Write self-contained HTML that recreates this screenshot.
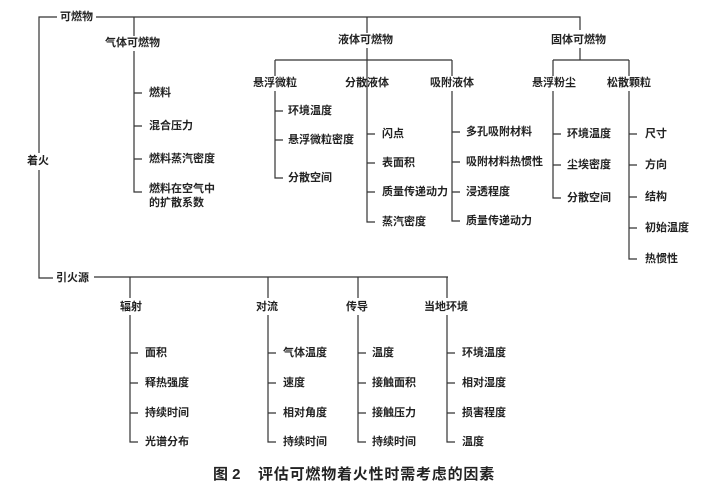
<!DOCTYPE html>
<html><head><meta charset="utf-8"><style>
html,body{margin:0;padding:0;background:#fff}
svg{display:block}
text{font-family:"Liberation Sans","Noto Sans CJK SC",sans-serif;font-size:11px;font-weight:bold;fill:#222;dominant-baseline:middle}
</style></head><body>
<svg width="705" height="491" viewBox="0 0 705 491" xmlns="http://www.w3.org/2000/svg">
<g stroke="#333" stroke-width="1.2" fill="none">
<path d="M57 17H39V153M39 170V278H53"/>
<path d="M96 17H580V30"/>
<path d="M134 17V36M134 51V192H142M134 93H142M134 126H142M134 159H142"/>
<path d="M367 17V33M367 48V222H375M367 134H375M367 163H375M367 192H375"/>
<path d="M275 60H452M275 60V76M452 60V76"/>
<path d="M275 91V178H283M275 111H283M275 140H283"/>
<path d="M452 91V221H460M452 132H460M452 162H460M452 192H460"/>
<path d="M580 48V60M553 60H629M553 60V76M629 60V76"/>
<path d="M553 91V198H561M553 134H561M553 165H561"/>
<path d="M629 91V259H637M629 134H637M629 165H637M629 197H637M629 228H637"/>
<path d="M94 277H448M130 277V298M268 277V298M358 277V298M447 277V298"/>
<path d="M130 315V442H138M130 353H138M130 383H138M130 413H138"/>
<path d="M268 315V442H276M268 353H276M268 383H276M268 413H276"/>
<path d="M358 315V442H366M358 353H366M358 383H366M358 413H366"/>
<path d="M447 315V442H455M447 353H455M447 383H455M447 413H455"/>
</g>
<text x="60" y="17">可燃物</text>
<text x="27" y="161">着火</text>
<text x="105" y="43">气体可燃物</text>
<text x="149" y="93">燃料</text>
<text x="149" y="126">混合压力</text>
<text x="149" y="159">燃料蒸汽密度</text>
<text x="149" y="189">燃料在空气中</text>
<text x="149" y="203">的扩散系数</text>
<text x="338" y="40">液体可燃物</text>
<text x="253" y="83">悬浮微粒</text>
<text x="288" y="111">环境温度</text>
<text x="288" y="140">悬浮微粒密度</text>
<text x="288" y="178">分散空间</text>
<text x="345" y="83">分散液体</text>
<text x="382" y="134">闪点</text>
<text x="382" y="163">表面积</text>
<text x="382" y="192">质量传递动力</text>
<text x="382" y="222">蒸汽密度</text>
<text x="430" y="83">吸附液体</text>
<text x="466" y="132">多孔吸附材料</text>
<text x="466" y="162">吸附材料热惯性</text>
<text x="466" y="192">浸透程度</text>
<text x="466" y="221">质量传递动力</text>
<text x="551" y="40">固体可燃物</text>
<text x="532" y="83">悬浮粉尘</text>
<text x="567" y="134">环境温度</text>
<text x="567" y="165">尘埃密度</text>
<text x="567" y="198">分散空间</text>
<text x="607" y="83">松散颗粒</text>
<text x="645" y="134">尺寸</text>
<text x="645" y="165">方向</text>
<text x="645" y="197">结构</text>
<text x="645" y="228">初始温度</text>
<text x="645" y="259">热惯性</text>
<text x="56" y="278">引火源</text>
<text x="120" y="307">辐射</text>
<text x="145" y="353">面积</text>
<text x="145" y="383">释热强度</text>
<text x="145" y="413">持续时间</text>
<text x="145" y="442">光谱分布</text>
<text x="256" y="307">对流</text>
<text x="283" y="353">气体温度</text>
<text x="283" y="383">速度</text>
<text x="283" y="413">相对角度</text>
<text x="283" y="442">持续时间</text>
<text x="346" y="307">传导</text>
<text x="372" y="353">温度</text>
<text x="372" y="383">接触面积</text>
<text x="372" y="413">接触压力</text>
<text x="372" y="442">持续时间</text>
<text x="424" y="307">当地环境</text>
<text x="462" y="353">环境温度</text>
<text x="462" y="383">相对湿度</text>
<text x="462" y="413">损害程度</text>
<text x="462" y="442">温度</text>
<text x="213" y="475" style="font-size:15px">图 2</text>
<text x="258" y="475" style="font-size:15px;letter-spacing:0.8px">评估可燃物着火性时需考虑的因素</text>
</svg>
</body></html>
